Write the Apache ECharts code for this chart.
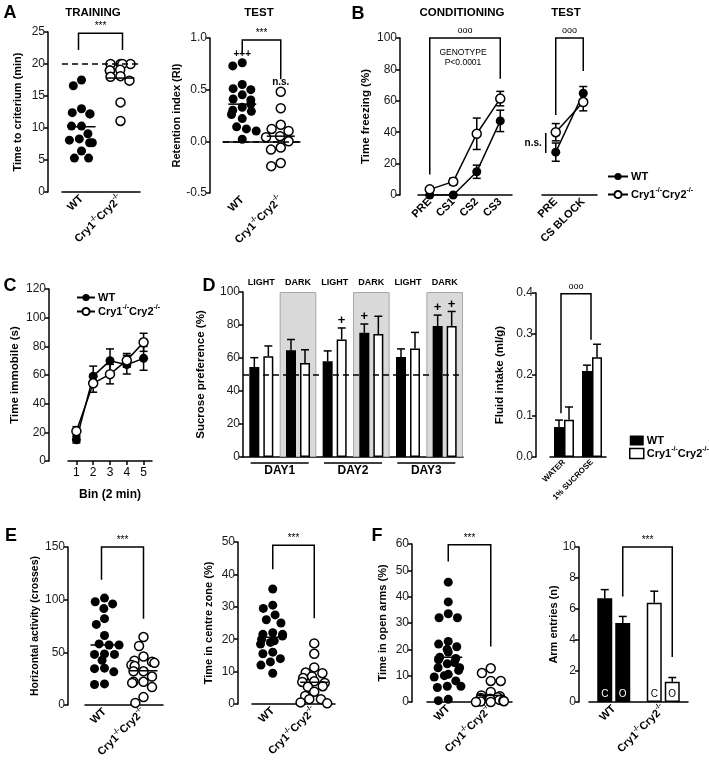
<!DOCTYPE html>
<html lang="en">
<head>
<meta charset="UTF-8" />
<title>Cry1/Cry2 behaviour panels</title>
<script src="https://cdn.jsdelivr.net/npm/echarts@6.0.0/dist/echarts.min.js"></script>
<style>
  html, body { margin: 0; padding: 0; background: #fff; }
  #chart { width: 709px; height: 770px; }
</style>
</head>
<body>
<div id="chart"></div>
<script>
// ---- data ----
var groupNames = ['WT', 'Cry1-/-Cry2-/-'];

// A: training / test
var trainWT = [17.5, 16.6, 13.0, 12.4, 12.2, 12.2, 10.3, 10.3, 9.1, 8.3, 8.1, 7.7, 7.7, 6.4, 5.3, 5.3];
var trainCry = [20, 20, 20, 20, 19.1, 19.0, 19.0, 18.1, 18.0, 17.4, 14.0, 11.1];
var trainMean = [10.2, 17.8];
var testWT = [0.76, 0.73, 0.55, 0.51, 0.50, 0.45, 0.41, 0.40, 0.36, 0.33, 0.30, 0.29, 0.26, 0.22, 0.14, 0.12, 0.10, 0.02];
var testCry = [0.48, 0.32, 0.16, 0.12, 0.10, 0.05, 0.04, 0.0, -0.06, -0.08, -0.21, -0.24];
var testMean = [0.36, 0.05];

// B: fear conditioning
var condCats = ['PRE', 'CS1', 'CS2', 'CS3'];
var condWT = [0, 0, 14.8, 47.2];
var condWTErr = [0, 0, 4.2, 6.8];
var condCry = [3.6, 8.5, 39, 61.4];
var condCryErr = [1.2, 2.2, 10, 4.6];
var cueCats = ['PRE', 'CS BLOCK'];
var cueWT = [27.3, 64.8];
var cueWTErr = [5.8, 4.3];
var cueCry = [40, 59.2];
var cueCryErr = [5.5, 5.6];

// C: forced swim
var bins = ['1', '2', '3', '4', '5'];
var immWT = [14.8, 59.2, 70, 67.2, 71.6];
var immWTErr = [2.2, 7, 8.2, 6.5, 8.3];
var immCry = [20.8, 54.2, 60.6, 70.2, 82.8];
var immCryErr = [3.2, 6.2, 6.8, 4.8, 6.3];

// D: sucrose preference
var phases = ['LIGHT', 'DARK', 'LIGHT', 'DARK', 'LIGHT', 'DARK'];
var days = ['DAY1', 'DAY2', 'DAY3'];
var sucWT = [54.5, 64.7, 58, 75.3, 60.6, 79.4];
var sucWTErr = [5.7, 6.5, 6.3, 5.3, 4.9, 6.6];
var sucCry = [61, 57, 71.2, 74.5, 65.7, 79.4];
var sucCryErr = [6.3, 8, 7, 10.8, 9.8, 8.8];
var sucPlusWT = [0, 0, 0, 1, 0, 1];
var sucPlusCry = [0, 0, 1, 0, 0, 1];
var fluidCats = ['WATER', '1% SUCROSE'];
var fluidWT = [0.073, 0.21];
var fluidWTErr = [0.017, 0.014];
var fluidCry = [0.091, 0.243];
var fluidCryErr = [0.031, 0.032];

// E: open field
var horizWT = [101.5, 98, 96, 91.5, 82, 76.5, 66, 58, 57, 57, 48.5, 48, 48, 42.5, 35, 34.5, 31.5, 20, 19.5];
var horizCry = [64.5, 56, 46, 42, 41, 40, 38, 37, 32, 32, 27, 22, 22, 21, 17, 7.5, 2];
var horizMean = [57, 32.5];
var centreWT = [35.5, 30.5, 29.5, 27.5, 26, 25, 22, 21.5, 21.5, 21, 20, 19.5, 19, 18.5, 16, 15.5, 14, 13, 12, 9.5];
var centreCry = [18.7, 15.5, 11.3, 9.7, 9.5, 8.5, 8, 7, 6.8, 6.5, 5.5, 5.3, 3.8, 2.5, 1.5, 1.5, 0.5, 0.2];
var centreMean = [20.6, 6.7];

// F: elevated plus maze
var openWT = [45.5, 38, 33.5, 32, 32, 23, 22, 21, 20, 19, 17, 16.5, 16, 15, 14.5, 13, 13, 12, 10.5, 10, 9.5, 8, 6, 6, 5.5, 1, 0.5];
var openCry = [12.8, 11, 8, 8, 3.8, 2.5, 2.2, 1.8, 1.5, 1.2, 1, 0.8, 0.5, 0.3, 0.2, 0, 0];
var openMean = [17, 2.5];
var armC = [6.7, 6.4];
var armCErr = [0.55, 0.75];
var armO = [5.1, 1.3];
var armOErr = [0.42, 0.28];

// ---- helpers ----
var FONT = '"Liberation Sans", Arial, Helvetica, sans-serif';
var BLACK = '#000';
var FILLED = { color: BLACK, opacity: 1 };
var OPEN = { color: '#fff', borderColor: BLACK, borderWidth: 1.5, opacity: 1 };

var grids = [], xAxes = [], yAxes = [], series = [];

var rich = {
  b: { fontFamily: FONT, fontWeight: 'bold', fontSize: 11, color: BLACK, lineHeight: 15 },
  s: { fontFamily: FONT, fontWeight: 'bold', fontSize: 7, color: BLACK, verticalAlign: 'top' }
};
function geno(v) {
  if (String(v).indexOf('Cry') !== 0) return v;
  return '{b|Cry1}{s|-/-}{b|Cry2}{s|-/-}';
}

function addPanel(p) {
  var g = grids.length;
  grids.push({ left: p.left, top: p.top, width: p.width, height: p.height, containLabel: false, outerBoundsMode: 'none' });
  var x = xAxes.length;
  xAxes.push({
    type: 'category', gridIndex: g, data: p.cats,
    name: p.xName || '', nameLocation: 'middle', nameGap: p.xNameGap || 0, nameMoveOverlap: false,
    nameTextStyle: { fontFamily: FONT, fontSize: 12, fontWeight: 'bold', color: BLACK },
    jitter: p.jitter || 0, jitterOverlap: false, jitterMargin: 1,
    axisLine: { show: true, lineStyle: { color: BLACK, width: 1.5 } },
    axisTick: { show: !!p.xTicks, length: 4, alignWithLabel: true, lineStyle: { color: BLACK, width: 1.5 } },
    axisLabel: {
      show: p.xLabels !== false, interval: 0, rotate: p.rotate || 0, margin: p.xMargin || 5,
      fontFamily: FONT, fontSize: p.xSize || 11, fontWeight: p.xBold === false ? 'normal' : 'bold', color: BLACK,
      formatter: geno, rich: rich
    },
    splitLine: { show: false }
  });
  var y = yAxes.length;
  yAxes.push({
    type: 'value', gridIndex: g, show: p.yShow !== false, min: p.min, max: p.max, interval: p.step, offset: p.offset || 0,
    name: p.name || '', nameLocation: 'middle', nameGap: p.nameGap || 30, nameMoveOverlap: false,
    nameTextStyle: { fontFamily: FONT, fontSize: p.nameSize || 11.5, fontWeight: 'bold', color: BLACK },
    axisLine: { show: true, lineStyle: { color: BLACK, width: 1.5 } },
    axisTick: { show: true, length: 4, lineStyle: { color: BLACK, width: 1.5 } },
    axisLabel: { fontFamily: FONT, fontSize: 12, color: '#1a1a1a', margin: 3, formatter: p.fmt },
    splitLine: { show: false }
  });
  return { g: g, x: x, y: y };
}

function meanRender(params, api) {
  var p = api.coord([api.value(0), api.value(1)]);
  return { type: 'line', shape: { x1: p[0] - 14, y1: p[1], x2: p[0] + 14, y2: p[1] }, style: { stroke: BLACK, lineWidth: 1.5 } };
}

function dotPanel(ax, wt, cry, means, dashAt) {
  series.push({ type: 'scatter', xAxisIndex: ax.x, yAxisIndex: ax.y, symbolSize: 9, z: 3,
    itemStyle: FILLED, data: wt.map(function (v) { return [0, v]; }) });
  var cs = { type: 'scatter', xAxisIndex: ax.x, yAxisIndex: ax.y, symbolSize: 9, z: 3,
    itemStyle: OPEN, data: cry.map(function (v) { return [1, v]; }) };
  if (dashAt !== undefined) {
    cs.markLine = { silent: true, symbol: 'none', label: { show: false },
      lineStyle: { type: [6, 4], color: BLACK, width: 1.5 }, data: [{ yAxis: dashAt }] };
  }
  series.push(cs);
  series.push({ type: 'custom', xAxisIndex: ax.x, yAxisIndex: ax.y, encode: { x: 0, y: 1 }, z: 4, silent: true,
    renderItem: meanRender, data: means.map(function (m, i) { return [i, m]; }) });
}

function errRender(dx, up) {
  return function (params, api) {
    var c = api.value(0), m = api.value(1), e = api.value(2);
    var x = api.coord([c, m])[0] + dx;
    var yHi = api.coord([c, m + e])[1];
    var yLo = api.coord([c, up ? m : m - e])[1];
    var st = { stroke: BLACK, lineWidth: 1.5 };
    var cap = 4;
    var kids = [
      { type: 'line', shape: { x1: x, y1: yLo, x2: x, y2: yHi }, style: st },
      { type: 'line', shape: { x1: x - cap, y1: yHi, x2: x + cap, y2: yHi }, style: st }
    ];
    if (!up) kids.push({ type: 'line', shape: { x1: x - cap, y1: yLo, x2: x + cap, y2: yLo }, style: st });
    if (api.value(3)) {
      kids.push({ type: 'text', x: x, y: yHi - 1,
        style: { text: '+', fill: BLACK, font: 'bold 13px ' + FONT, align: 'center', verticalAlign: 'bottom' } });
    }
    return { type: 'group', children: kids };
  };
}

function errSeries(ax, vals, errs, dx, up, flags) {
  series.push({ type: 'custom', xAxisIndex: ax.x, yAxisIndex: ax.y, encode: { x: 0, y: 1 }, z: up ? 4 : 2, silent: true,
    renderItem: errRender(dx, up),
    data: vals.map(function (v, i) { return [i, v, errs[i], flags ? flags[i] : 0]; }) });
}

function lineSeries(ax, name, vals, filled) {
  series.push({ type: 'line', name: name, xAxisIndex: ax.x, yAxisIndex: ax.y, data: vals, z: 3,
    symbol: 'circle', symbolSize: 9, showAllSymbol: true,
    lineStyle: { color: BLACK, width: 1.5 },
    itemStyle: filled ? FILLED : OPEN });
}

var fmt1 = function (v) { return v.toFixed(1); };

// ---- panels ----
var axA1 = addPanel({ left: 62, top: 32, width: 78, height: 160, cats: groupNames, min: 0, max: 25, step: 5,
  offset: 14, name: 'Time to criterium (min)', nameGap: 25, nameSize: 11, rotate: 45, jitter: 30 });
dotPanel(axA1, trainWT, trainCry, trainMean, 20);

var axA2 = addPanel({ left: 223, top: 38, width: 77, height: 155, cats: groupNames, min: -0.5, max: 1, step: 0.5,
  offset: 13, name: 'Retention index (RI)', nameGap: 28, nameSize: 11, rotate: 45, fmt: fmt1, jitter: 30 });
dotPanel(axA2, testWT, testCry, testMean, 0);

var axB1 = addPanel({ left: 418, top: 38, width: 94, height: 157, cats: condCats, min: 0, max: 100, step: 20,
  offset: 18, name: 'Time freezing (%)', nameGap: 28, rotate: 45 });
errSeries(axB1, condWT, condWTErr, 0, false);
errSeries(axB1, condCry, condCryErr, 0, false);
lineSeries(axB1, 'B WT', condWT, true);
lineSeries(axB1, 'B Cry', condCry, false);

var axB2 = addPanel({ left: 542, top: 38, width: 55, height: 157, cats: cueCats, min: 0, max: 100, step: 20,
  yShow: false, rotate: 45 });
errSeries(axB2, cueWT, cueWTErr, 0, false);
errSeries(axB2, cueCry, cueCryErr, 0, false);
lineSeries(axB2, 'B2 WT', cueWT, true);
lineSeries(axB2, 'B2 Cry', cueCry, false);

var axC = addPanel({ left: 68, top: 289, width: 84, height: 172, cats: bins, min: 0, max: 120, step: 20,
  offset: 19, name: 'Time immobile (s)', nameGap: 28, xTicks: true, xBold: false, xSize: 12, xMargin: 6,
  xName: 'Bin (2 min)', xNameGap: 28 });
errSeries(axC, immWT, immWTErr, 0, false);
errSeries(axC, immCry, immCryErr, 0, false);
lineSeries(axC, 'C WT', immWT, true);
lineSeries(axC, 'C Cry', immCry, false);

var axD1 = addPanel({ left: 243, top: 292, width: 220, height: 165, cats: phases, min: 0, max: 100, step: 20,
  name: 'Sucrose preference (%)', nameGap: 36, xLabels: false });
var d1Top = xAxes.length;
xAxes.push({ type: 'category', gridIndex: axD1.g, position: 'top', data: phases,
  axisLine: { show: false }, axisTick: { show: false }, splitLine: { show: false },
  axisLabel: { interval: 0, margin: 5, fontFamily: FONT, fontSize: 9, fontWeight: 'bold', color: BLACK } });
var d1Days = xAxes.length;
xAxes.push({ type: 'category', gridIndex: axD1.g, position: 'bottom', data: days,
  axisLine: { show: false }, axisTick: { show: false }, splitLine: { show: false },
  axisLabel: { interval: 0, margin: 8, fontFamily: FONT, fontSize: 12, fontWeight: 'bold', color: BLACK } });
series.push({ type: 'bar', xAxisIndex: d1Top, yAxisIndex: axD1.y, barWidth: '100%', z: 0, silent: true,
  itemStyle: { color: '#d9d9d9', borderColor: '#a8a8a8', borderWidth: 1 },
  data: phases.map(function (p) { return p === 'DARK' ? 100 : '-'; }) });
series.push({ type: 'bar', name: 'D WT', xAxisIndex: axD1.x, yAxisIndex: axD1.y, data: sucWT, barWidth: 10, barGap: '40%', z: 2,
  itemStyle: FILLED,
  markLine: { silent: true, symbol: 'none', label: { show: false }, lineStyle: { type: [6, 4], color: BLACK, width: 1.5 }, data: [{ yAxis: 50 }] } });
series.push({ type: 'bar', name: 'D Cry', xAxisIndex: axD1.x, yAxisIndex: axD1.y, data: sucCry, barWidth: 10, barGap: '40%', z: 2,
  itemStyle: OPEN });
errSeries(axD1, sucWT, sucWTErr, -7, true, sucPlusWT);
errSeries(axD1, sucCry, sucCryErr, 7, true, sucPlusCry);

var axD2 = addPanel({ left: 550, top: 293, width: 56, height: 164, cats: fluidCats, min: 0, max: 0.4, step: 0.1,
  offset: 14, name: 'Fluid intake (ml/g)', nameGap: 30, rotate: 45, xSize: 8, xMargin: 4, fmt: fmt1 });
series.push({ type: 'bar', name: 'D2 WT', xAxisIndex: axD2.x, yAxisIndex: axD2.y, data: fluidWT, barWidth: 10, barGap: 0, itemStyle: FILLED });
series.push({ type: 'bar', name: 'D2 Cry', xAxisIndex: axD2.x, yAxisIndex: axD2.y, data: fluidCry, barWidth: 10, barGap: 0, itemStyle: OPEN });
errSeries(axD2, fluidWT, fluidWTErr, -5, true);
errSeries(axD2, fluidCry, fluidCryErr, 5, true);

var axE1 = addPanel({ left: 85, top: 547, width: 78, height: 158, cats: groupNames, min: 0, max: 150, step: 50,
  offset: 17, name: 'Horizontal activity (crosses)', nameGap: 27, nameSize: 10.5, rotate: 45, jitter: 30 });
dotPanel(axE1, horizWT, horizCry, horizMean);

var axE2 = addPanel({ left: 252, top: 542, width: 83, height: 162, cats: groupNames, min: 0, max: 50, step: 10,
  offset: 14, name: 'Time in centre zone (%)', nameGap: 24, nameSize: 11, rotate: 45, jitter: 30 });
dotPanel(axE2, centreWT, centreCry, centreMean);

var axF1 = addPanel({ left: 427, top: 544, width: 85, height: 158, cats: groupNames, min: 0, max: 60, step: 10,
  offset: 15, name: 'Time in open arms (%)', nameGap: 24, nameSize: 11, rotate: 45, jitter: 30 });
dotPanel(axF1, openWT, openCry, openMean);

var axF2 = addPanel({ left: 589, top: 547, width: 99, height: 155, cats: groupNames, min: 0, max: 10, step: 2,
  offset: 10, name: 'Arm entries (n)', nameGap: 20, nameSize: 11, rotate: 45 });
function armData(vals) {
  return vals.map(function (v, i) {
    return { value: v, itemStyle: i === 0 ? FILLED : OPEN, label: { color: i === 0 ? '#fff' : BLACK } };
  });
}
series.push({ type: 'bar', name: 'C', xAxisIndex: axF2.x, yAxisIndex: axF2.y, data: armData(armC), barWidth: 15, barGap: '20%',
  label: { show: true, position: 'insideBottom', distance: 3, formatter: 'C', fontFamily: FONT, fontSize: 10 } });
series.push({ type: 'bar', name: 'O', xAxisIndex: axF2.x, yAxisIndex: axF2.y, data: armData(armO), barWidth: 15, barGap: '20%',
  label: { show: true, position: 'insideBottom', distance: 3, formatter: 'O', fontFamily: FONT, fontSize: 10 } });
errSeries(axF2, armC, armCErr, -9, true);
errSeries(axF2, armO, armOErr, 9, true);

// ---- legends ----
function legendText(name) {
  return name.split(' ')[1] === 'WT' ? '{b|WT}' : '{b|Cry1}{s|-/-}{b|Cry2}{s|-/-}';
}
var legendBase = { orient: 'vertical', selectedMode: false, formatter: legendText,
  textStyle: { rich: rich, padding: [0, 0, 0, -2] } };

var option = {
  animation: false,
  backgroundColor: '#fff',
  grid: grids,
  xAxis: xAxes,
  yAxis: yAxes,
  legend: [
    Object.assign({}, legendBase, { data: ['B WT', 'B Cry'], left: 602, top: 166, itemGap: 5, itemWidth: 20, itemHeight: 9 }),
    Object.assign({}, legendBase, { data: ['C WT', 'C Cry'], left: 71, top: 287, itemGap: 1, itemWidth: 18, itemHeight: 9 }),
    Object.assign({}, legendBase, { left: 624, top: 430, itemGap: 0, itemWidth: 14, itemHeight: 10, icon: 'rect',
      data: [{ name: 'D WT', itemStyle: { color: BLACK } },
             { name: 'D Cry', itemStyle: { color: '#fff', borderColor: BLACK, borderWidth: 1.5 } }] })
  ],
  series: series
};

var chart = echarts.init(document.getElementById('chart'));
chart.setOption(option);

// ---- annotations: brackets, titles, panel letters ----
function px(ax, c, v, dx) {
  var p = chart.convertToPixel({ xAxisIndex: ax.x, yAxisIndex: ax.y }, [c, v]);
  return [p[0] + (dx || 0), p[1]];
}
function txt(x, y, s, size, weight, align) {
  return { type: 'text', x: x, y: y, silent: true, z: 10,
    style: { text: s, fill: BLACK, font: (weight || 'bold') + ' ' + size + 'px ' + FONT, align: align || 'center', verticalAlign: 'middle' } };
}
var gfx = [];
function bracket(ax, c1, y1, c2, y2, top, label, dx1, dx2) {
  var a = px(ax, c1, y1, dx1), b = px(ax, c1, top, dx1), c = px(ax, c2, top, dx2), d = px(ax, c2, y2, dx2);
  gfx.push({ type: 'polyline', silent: true, z: 10, shape: { points: [a, b, c, d] }, style: { stroke: BLACK, lineWidth: 1.5, fill: null } });
  gfx.push(txt((b[0] + c[0]) / 2, b[1] - 7, label, label === 'ooo' ? 9 : 10, 'normal'));
}
bracket(axA1, 0, 22.2, 1, 22.2, 24.8, '***', -3, 2);
bracket(axA2, 0, 0.85, 1, 0.6, 0.98, '***');
bracket(axB1, 0, 13, 3, 74, 100, 'ooo');
bracket(axB2, 0, 51, 1, 79, 100, 'ooo');
bracket(axD2, 0, 0.107, 1, 0.286, 0.398, 'ooo', -3, -1);
bracket(axE1, 0, 119, 1, 82, 150, '***', -3, 0);
bracket(axE2, 0, 41.6, 1, 26.5, 49, '***');
bracket(axF1, 0, 53.4, 1, 21.1, 59.7, '***');
bracket(axF2, 0, 6.8, 1, 2.9, 10, '***', 9, 9);

var p;
p = px(axA2, 0, 0.84); gfx.push(txt(p[0], p[1], '+++', 10, 'bold'));
p = px(axA2, 1, 0.57); gfx.push(txt(p[0], p[1], 'n.s.', 10, 'bold'));
gfx.push(txt(463, 53, 'GENOTYPE', 8.5, 'normal'));
gfx.push(txt(463, 63, 'P<0.0001', 8.5, 'normal'));
var nsTop = px(axB2, 0, 39.5, -10), nsBot = px(axB2, 0, 26.8, -10);
gfx.push({ type: 'line', silent: true, shape: { x1: nsTop[0], y1: nsTop[1], x2: nsBot[0], y2: nsBot[1] }, style: { stroke: BLACK, lineWidth: 1.5 } });
gfx.push(txt(nsTop[0] - 4, (nsTop[1] + nsBot[1]) / 2, 'n.s.', 10, 'bold', 'right'));

// day underlines in D
days.forEach(function (d, i) {
  var c = chart.convertToPixel({ xAxisIndex: d1Days, yAxisIndex: axD1.y }, [i, 0]);
  gfx.push({ type: 'line', silent: true, shape: { x1: c[0] - 29, y1: 463, x2: c[0] + 29, y2: 463 }, style: { stroke: BLACK, lineWidth: 1.5 } });
});

gfx.push(txt(93, 13, 'TRAINING', 11.5, 'bold'));
gfx.push(txt(259, 13, 'TEST', 11.5, 'bold'));
gfx.push(txt(462, 13, 'CONDITIONING', 11.5, 'bold'));
gfx.push(txt(566, 13, 'TEST', 11.5, 'bold'));

gfx.push(txt(10, 13, 'A', 18, 'bold'));
gfx.push(txt(358, 14, 'B', 18, 'bold'));
gfx.push(txt(10, 286, 'C', 18, 'bold'));
gfx.push(txt(209, 286, 'D', 18, 'bold'));
gfx.push(txt(11, 536, 'E', 18, 'bold'));
gfx.push(txt(377, 536, 'F', 18, 'bold'));

chart.setOption({ graphic: gfx });
</script>
</body>
</html>
